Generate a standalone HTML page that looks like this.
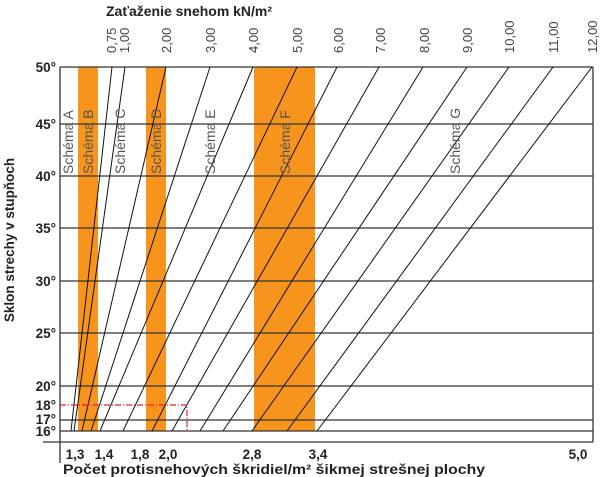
<!DOCTYPE html>
<html><head><meta charset="utf-8"><style>
body{margin:0;background:#fff}
svg{display:block;font-family:"Liberation Sans",sans-serif}
</style></head><body>
<svg width="600" height="477" viewBox="0 0 600 477">
<rect x="78" y="67" width="20" height="364" fill="#f7941d"/>
<rect x="146" y="67" width="20" height="364" fill="#f7941d"/>
<rect x="254" y="67" width="61" height="364" fill="#f7941d"/>
<g stroke="#333" stroke-width="1.3">
<line x1="60" y1="67" x2="593" y2="67"/>
<line x1="60" y1="124" x2="593" y2="124"/>
<line x1="60" y1="176" x2="593" y2="176"/>
<line x1="60" y1="228" x2="593" y2="228"/>
<line x1="60" y1="281" x2="593" y2="281"/>
<line x1="60" y1="333" x2="593" y2="333"/>
<line x1="60" y1="386" x2="593" y2="386"/>
<line x1="60" y1="420" x2="593" y2="420"/>
<line x1="60" y1="431" x2="593" y2="431"/>
<line x1="43" y1="442" x2="593" y2="442"/>
<line x1="60" y1="67" x2="60" y2="463"/>
<line x1="593" y1="67" x2="593" y2="442"/>
</g>
<g stroke="#111" stroke-width="1">
<line x1="112" y1="67" x2="71" y2="431"/>
<line x1="125" y1="67" x2="74" y2="431"/>
<line x1="166" y1="67" x2="82" y2="431"/>
<line x1="210" y1="67" x2="91" y2="431"/>
<line x1="253" y1="67" x2="100" y2="431"/>
<line x1="297" y1="67" x2="123" y2="431"/>
<line x1="337" y1="67" x2="152" y2="431"/>
<line x1="379" y1="67" x2="172" y2="431"/>
<line x1="423" y1="67" x2="200" y2="431"/>
<line x1="467" y1="67" x2="223" y2="431"/>
<line x1="509" y1="67" x2="252" y2="431"/>
<line x1="553" y1="67" x2="287" y2="431"/>
<line x1="592" y1="67" x2="317" y2="431"/>
</g>
<polyline points="60,405 187,405 187,431" fill="none" stroke="#e8202a" stroke-width="1.2" stroke-dasharray="6,2,1,2"/>
<g font-size="13.5" font-weight="bold" fill="#222" text-anchor="end">
<text x="56" y="72">50°</text><text x="56" y="129">45°</text><text x="56" y="181">40°</text>
<text x="56" y="233">35°</text><text x="56" y="286">30°</text><text x="56" y="338">25°</text>
<text x="56" y="391">20°</text><text x="56" y="410">18°</text><text x="56" y="424">17°</text><text x="56" y="436">16°</text>
</g>
<g font-size="13.5" font-weight="bold" fill="#222" text-anchor="middle">
<text x="75" y="459">1,3</text><text x="104" y="459">1,4</text><text x="140" y="459">1,8</text>
<text x="168" y="459">2,0</text><text x="252" y="459">2,8</text><text x="318" y="459">3,4</text><text x="578" y="459">5,0</text>
</g>
<text x="63" y="474" font-size="13.5" font-weight="bold" fill="#222" textLength="422" lengthAdjust="spacingAndGlyphs">Počet protisnehových škridiel/m² šikmej strešnej plochy</text>
<text x="106" y="16" font-size="14" font-weight="bold" fill="#222" textLength="166" lengthAdjust="spacingAndGlyphs">Zaťaženie snehom kN/m²</text>
<text transform="translate(14,240) rotate(-90)" font-size="13.5" font-weight="bold" fill="#222" text-anchor="middle">Sklon strechy v stupňoch</text>
<g font-size="13" fill="#444">
<text transform="translate(116,53) rotate(-90)">0,75</text>
<text transform="translate(129,53) rotate(-90)">1,00</text>
<text transform="translate(171,53) rotate(-90)">2,00</text>
<text transform="translate(215,53) rotate(-90)">3,00</text>
<text transform="translate(258,53) rotate(-90)">4,00</text>
<text transform="translate(302,53) rotate(-90)">5,00</text>
<text transform="translate(343,53) rotate(-90)">6,00</text>
<text transform="translate(385,53) rotate(-90)">7,00</text>
<text transform="translate(429,53) rotate(-90)">8,00</text>
<text transform="translate(472,53) rotate(-90)">9,00</text>
<text transform="translate(514,53) rotate(-90)">10,00</text>
<text transform="translate(558,53) rotate(-90)">11,00</text>
<text transform="translate(597,53) rotate(-90)">12,00</text>
</g>
<g font-size="14" fill="#555">
<text transform="translate(73,174) rotate(-90)">Schéma A</text>
<text transform="translate(93,174) rotate(-90)">Schéma B</text>
<text transform="translate(125,174) rotate(-90)">Schéma C</text>
<text transform="translate(161,174) rotate(-90)">Schéma D</text>
<text transform="translate(215,174) rotate(-90)">Schéma E</text>
<text transform="translate(290,174) rotate(-90)">Schéma F</text>
<text transform="translate(460,174) rotate(-90)">Schéma G</text>
</g>
</svg>
</body></html>
